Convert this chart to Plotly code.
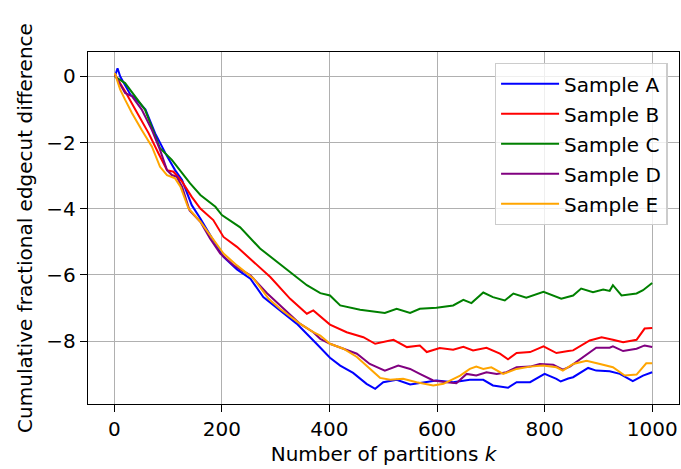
import plotly.graph_objects as go

# Sample A (blue)
k_a = [1, 6, 11, 20, 30, 39, 58, 76, 95, 113, 126, 144, 160, 184, 203, 228, 253, 277, 308, 339,
       376, 401, 420, 444, 469, 485, 500, 525, 550, 574, 599, 630, 661, 686, 704, 732, 748, 773,
       800, 822, 830, 844, 853, 881, 896, 921, 940, 964, 983, 1000]
v_a = [0.0, 0.25, 0.0, -0.28, -0.55, -0.66, -1.0, -1.72, -2.32, -2.83, -3.13, -3.89, -4.29, -4.95,
       -5.45, -5.83, -6.11, -6.67, -7.07, -7.47, -8.08, -8.5, -8.74, -8.96, -9.29, -9.44, -9.24,
       -9.17, -9.31, -9.24, -9.19, -9.24, -9.17, -9.17, -9.34, -9.41, -9.24, -9.24, -8.99, -9.14,
       -9.22, -9.13, -9.09, -8.81, -8.89, -8.91, -8.99, -9.21, -9.04, -8.94]

# Sample B (red)
k_b = [1, 20, 39, 64, 82, 98, 110, 126, 144, 160, 184, 203, 228, 259, 290, 327, 358, 370, 401, 432,
       463, 485, 519, 544, 568, 581, 605, 630, 649, 667, 692, 717, 732, 748, 773, 798, 822, 844,
       853, 884, 906, 927, 946, 971, 986, 1000]
v_b = [0.05, -0.45, -1.0, -1.72, -2.32, -2.83, -2.88, -3.18, -3.64, -3.99, -4.34, -4.85, -5.15, -5.6,
       -6.06, -6.72, -7.17, -7.07, -7.5, -7.73, -7.88, -8.08, -7.96, -8.18, -8.13, -8.33, -8.21,
       -8.26, -8.17, -8.28, -8.2, -8.38, -8.55, -8.36, -8.33, -8.16, -8.36, -8.3, -8.28, -7.98,
       -7.88, -7.96, -8.03, -7.96, -7.62, -7.6]

# Sample C (green)
k_c = [1, 20, 57, 85, 107, 141, 160, 188, 200, 234, 271, 314, 358, 383, 401, 420, 457, 503, 525, 550,
       568, 599, 630, 649, 664, 686, 704, 726, 742, 766, 798, 831, 853, 868, 890, 909, 921, 927,
       943, 971, 983, 1000]
v_c = [0.0, -0.2, -1.0, -2.17, -2.52, -3.23, -3.58, -3.94, -4.19, -4.56, -5.2, -5.76, -6.31, -6.55,
       -6.62, -6.92, -7.05, -7.15, -7.02, -7.15, -7.02, -6.99, -6.92, -6.75, -6.85, -6.53, -6.67,
       -6.77, -6.56, -6.69, -6.51, -6.72, -6.62, -6.41, -6.52, -6.44, -6.48, -6.31, -6.62, -6.56,
       -6.46, -6.24]

# Sample D (purple)
k_d = [1, 20, 33, 51, 70, 85, 98, 107, 116, 126, 140, 160, 178, 197, 222, 253, 284, 308, 345, 370,
       383, 401, 426, 451, 475, 503, 528, 550, 568, 593, 618, 636, 655, 673, 692, 711, 729, 748,
       773, 791, 816, 834, 847, 871, 896, 921, 927, 946, 971, 986, 1000]
v_d = [0.05, -0.5, -0.6, -1.0, -1.62, -2.22, -2.83, -2.98, -3.03, -3.33, -4.05, -4.39, -4.9, -5.35,
       -5.71, -6.01, -6.55, -6.92, -7.47, -7.73, -7.93, -8.08, -8.23, -8.38, -8.69, -8.89, -8.74,
       -8.84, -8.99, -9.19, -9.24, -9.27, -8.99, -9.04, -8.94, -8.99, -8.94, -8.79, -8.77, -8.69,
       -8.71, -8.86, -8.77, -8.48, -8.2, -8.2, -8.16, -8.3, -8.23, -8.13, -8.18]

# Sample E (orange)
k_e = [1, 11, 20, 33, 51, 70, 85, 98, 113, 123, 138, 160, 203, 228, 259, 287, 308, 345, 370, 383,
       401, 426, 451, 475, 494, 513, 537, 562, 593, 612, 630, 643, 661, 673, 686, 701, 723, 748,
       773, 797, 822, 834, 853, 878, 903, 927, 949, 971, 989, 1000]
v_e = [0.1, -0.4, -0.7, -1.11, -1.62, -2.12, -2.73, -2.98, -3.08, -3.33, -3.99, -4.39, -5.35, -5.71,
       -6.11, -6.72, -7.02, -7.47, -7.73, -7.83, -8.08, -8.23, -8.48, -8.84, -9.11, -9.17, -9.14,
       -9.24, -9.34, -9.29, -9.14, -9.04, -8.84, -8.77, -8.84, -8.79, -8.99, -8.84, -8.77, -8.74,
       -8.79, -8.89, -8.69, -8.59, -8.69, -8.79, -9.04, -9.01, -8.67, -8.67]

names = ["Sample A", "Sample B", "Sample C", "Sample D", "Sample E"]
colors = ["blue", "red", "green", "purple", "orange"]
series = [(k_a, v_a), (k_b, v_b), (k_c, v_c), (k_d, v_d), (k_e, v_e)]

x_ticks = [0, 200, 400, 600, 800, 1000]
y_ticks = [0, -2, -4, -6, -8]

FONT = "DejaVu Sans"

fig = go.Figure()
for (k, v), name, col in zip(series, names, colors):
    fig.add_trace(go.Scatter(x=k, y=v, mode="lines", name=name, legendgroup=name,
                             line=dict(color=col, width=2)))

axis_common = dict(
    showline=True, linecolor="black", linewidth=1.3, mirror=True,
    ticks="outside", ticklen=7, tickwidth=1.3, tickcolor="black",
    showgrid=True, gridcolor="#b0b0b0", gridwidth=1.4,
    zeroline=False,
    tickfont=dict(family=FONT, size=20, color="black"),
)

fig.update_layout(
    width=681, height=469,
    margin=dict(l=88, r=2, t=52, b=65, autoexpand=False),
    paper_bgcolor="white", plot_bgcolor="white",
    font=dict(family=FONT, size=20, color="black"),
    showlegend=True,
    legend=dict(
        x=0.981, y=0.969, xanchor="right", yanchor="top",
        bgcolor="rgba(255,255,255,0.8)", bordercolor="#cccccc", borderwidth=1.3,
        font=dict(family=FONT, size=20, color="black"),
        traceorder="grouped", tracegroupgap=1, itemwidth=58,
    ),
    xaxis=dict(range=[-48.9, 1049.9], tickvals=x_ticks,
               title=dict(text="Number of partitions <i>k</i>", standoff=6,
                          font=dict(family=FONT, size=20)),
               **axis_common),
    yaxis=dict(range=[-9.9, 0.74], tickvals=y_ticks,
               title=dict(text="Cumulative fractional edgecut difference", standoff=8,
                          font=dict(family=FONT, size=20)),
               **axis_common),
)

fig.write_html("out.html", config={"displayModeBar": False},
               post_script="document.body.style.margin='0';document.body.style.overflow='hidden';")
